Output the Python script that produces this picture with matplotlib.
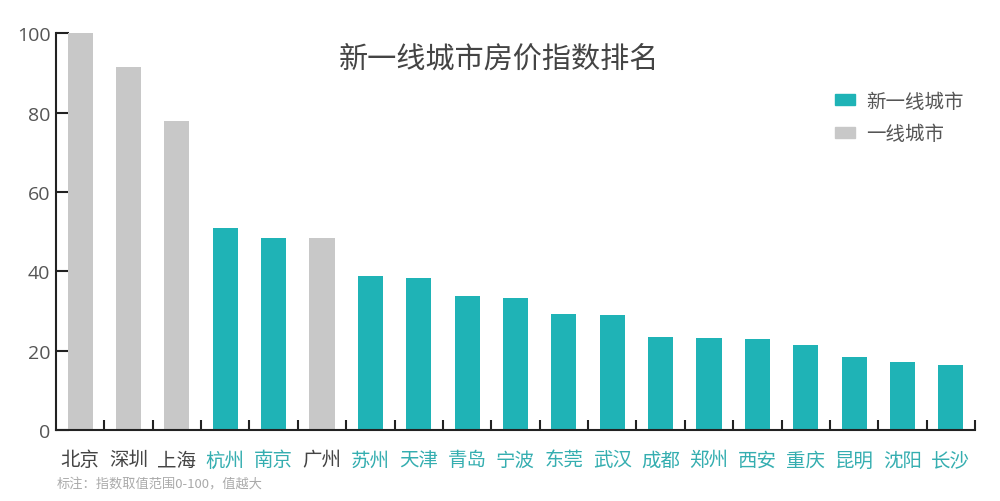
import matplotlib.pyplot as plt
import numpy as np
from matplotlib.patches import Patch

plt.rcParams['font.family'] = ['Noto Sans CJK SC', 'DejaVu Sans']

cities = ["北京", "深圳", "上海", "杭州", "南京", "广州", "苏州", "天津", "青岛", "宁波",
          "东莞", "武汉", "成都", "郑州", "西安", "重庆", "昆明", "沈阳", "长沙"]
index_values = [100, 91.4, 77.8, 51.0, 48.5, 48.5, 38.8, 38.3, 33.8, 33.2,
                29.2, 29.0, 23.4, 23.2, 23.0, 21.4, 18.4, 17.1, 16.4]
first_tier = ["北京", "深圳", "上海", "广州"]
legend_labels = ["新一线城市", "一线城市"]

TEAL = "#1fb3b6"
GRAY = "#c8c8c8"

fig = plt.figure(figsize=(10, 5.02), dpi=100)
ax = fig.add_axes([0.056, 0.1414, 0.919, 0.7906])

x = np.arange(len(cities))
colors = [GRAY if c in first_tier else TEAL for c in cities]
ax.bar(x, index_values, width=0.52, color=colors, zorder=2)

ax.set_xlim(-0.5, len(cities) - 0.5)
ax.set_ylim(0, 100)
ax.set_yticks([0, 20, 40, 60, 80, 100])

for side in ("top", "right"):
    ax.spines[side].set_visible(False)
for side in ("left", "bottom"):
    ax.spines[side].set_linewidth(1.5)
    ax.spines[side].set_color("#222222")

ax.tick_params(axis="y", direction="in", length=9, width=1.5, colors="#222222",
               labelcolor="#555555", labelsize=14, pad=4)
for lbl in ax.get_yticklabels():
    lbl.set_family(["Open Sans", "DejaVu Sans"])
ax.set_xticks(x)
ax.set_xticklabels(cities, fontsize=14)
ax.tick_params(axis="x", which="major", length=0, pad=14)
ax.set_xticks(x + 0.5, minor=True)
ax.tick_params(axis="x", which="minor", direction="in", length=7, width=1.5,
               colors="#222222")
for lbl, c in zip(ax.get_xticklabels(), cities):
    lbl.set_color("#444444" if c in first_tier else "#35aeb0")

fig.text(0.499, 0.882, "新一线城市房价指数排名", ha="center", va="center",
         fontsize=21, color="#444444")
fig.text(0.057, 0.033, "标注：指数取值范围0-100，值越大", ha="left", va="center",
         fontsize=9.5, color="#aaaaaa")

handles = [Patch(color=TEAL), Patch(color=GRAY)]
fig.legend(handles, legend_labels, loc="upper left", bbox_to_anchor=(0.817, 0.852),
           frameon=False, fontsize=14, labelcolor="#555555", handlelength=1.05,
           handleheight=0.5, labelspacing=0.6, handletextpad=0.6)

fig.savefig("out.png", dpi=100)
